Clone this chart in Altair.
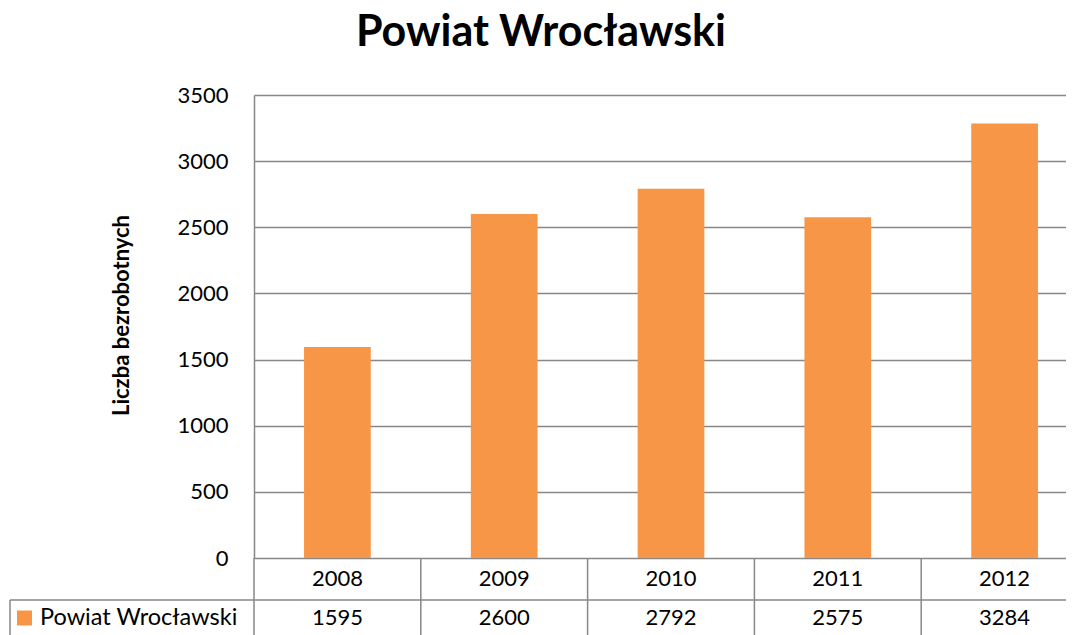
import altair as alt
import pandas as pd

# ---- data ----
years = ["2008", "2009", "2010", "2011", "2012"]
values = [1595, 2600, 2792, 2575, 3284]
series_name = "Powiat Wrocławski"
chart_title = "Powiat Wrocławski"
y_title = "Liczba bezrobotnych"
y_ticks = [0, 500, 1000, 1500, 2000, 2500, 3000, 3500]

df = pd.DataFrame({"year": years, "value": values})
legend_df = pd.DataFrame({"label": [series_name]})

# ---- style / layout ----
W, H = 812, 463
XR = 834
ORANGE = "#F79646"
GRID = "#878787"
FONT = "Lato"
FS = 22

xscale = alt.Scale(range=[0, XR], paddingInner=0, paddingOuter=0)

base = alt.Chart(df)

bars = base.mark_bar(color=ORANGE, width=alt.RelativeBandSize(0.4)).encode(
    x=alt.X("year:N", scale=xscale, axis=None, sort=years),
    y=alt.Y(
        "value:Q",
        scale=alt.Scale(domain=[0, 3500], nice=False),
        axis=alt.Axis(
            values=y_ticks,
            format="d",
            grid=True,
            gridColor=GRID,
            gridWidth=1.5,
            domain=True,
            domainColor=GRID,
            domainWidth=1.5,
            ticks=False,
            labelPadding=26,
            labelFont=FONT,
            labelFontSize=FS,
            labelColor="black",
            title=y_title,
            titleFont=FONT,
            titleFontSize=22,
            titleFontWeight="bold",
            titleColor="black",
            titleX=-121,
            titleY=220,
        ),
    ),
)

col_rules = base.mark_rule(color=GRID, strokeWidth=1.5).encode(
    x=alt.X("year:N", scale=xscale, sort=years, bandPosition=0),
    y=alt.value(H),
    y2=alt.value(H + 90),
)

row_rule = alt.Chart(legend_df).mark_rule(color=GRID, strokeWidth=1.5).encode(
    x=alt.value(-244), x2=alt.value(XR), y=alt.value(H + 42)
)
left_rule = alt.Chart(legend_df).mark_rule(color=GRID, strokeWidth=1.5).encode(
    x=alt.value(-244), y=alt.value(H + 42), y2=alt.value(H + 90)
)

year_text = base.mark_text(font=FONT, fontSize=FS, baseline="middle", color="black").encode(
    x=alt.X("year:N", scale=xscale, sort=years),
    y=alt.value(H + 21),
    text="year:N",
)
value_text = base.mark_text(font=FONT, fontSize=FS, baseline="middle", color="black").encode(
    x=alt.X("year:N", scale=xscale, sort=years),
    y=alt.value(H + 60),
    text=alt.Text("value:Q", format="d"),
)

legend_sq = alt.Chart(legend_df).mark_square(color=ORANGE, opacity=1, size=225).encode(
    x=alt.value(-229.5), y=alt.value(H + 60)
)
legend_txt = alt.Chart(legend_df).mark_text(
    font=FONT, fontSize=23.5, align="left", baseline="middle", color="black"
).encode(x=alt.value(-214), y=alt.value(H + 60), text="label:N")

chart = (
    alt.layer(bars, col_rules, row_rule, left_rule, year_text, value_text, legend_sq, legend_txt)
    .properties(
        width=W,
        height=H,
        title=alt.TitleParams(
            chart_title,
            font=FONT,
            fontSize=43,
            fontWeight="bold",
            color="black",
            anchor="middle",
            frame="group",
            dx=-119,
            offset=29,
        ),
        autosize=alt.AutoSizeParams(type="none"),
        padding={"left": 246, "top": 87, "right": 0, "bottom": 77},
    )
    .configure_view(stroke=None)
)

chart.save("out.html", embed_options={"renderer": "svg", "actions": False})
